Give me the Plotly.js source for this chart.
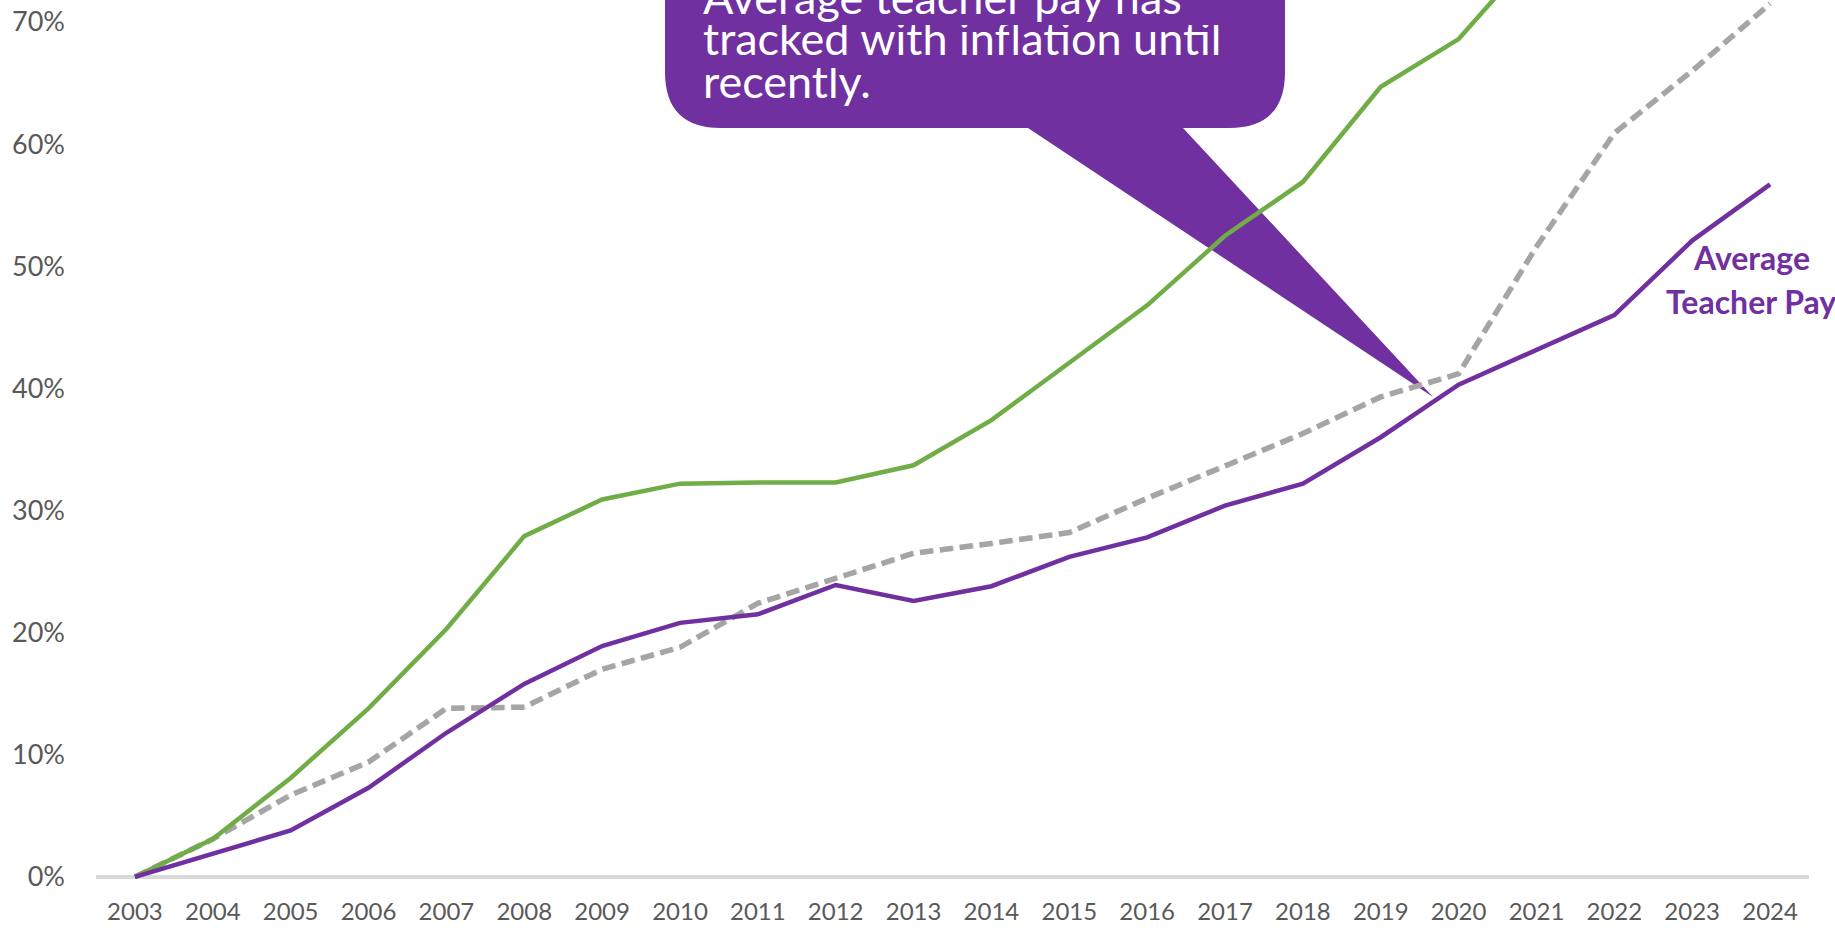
<!DOCTYPE html>
<html>
<head>
<meta charset="utf-8">
<script src="https://cdn.plot.ly/plotly-3.0.1.min.js"></script>
<style>html,body{margin:0;padding:0;background:#fff;}#chart{width:1835px;height:930px;}</style>
</head>
<body>
<div id="chart"></div>
<script>
// ---- data ----
const years = ["2003","2004","2005","2006","2007","2008","2009","2010","2011","2012","2013","2014","2015","2016","2017","2018","2019","2020","2021","2022","2023","2024"];
const teacherPay = [0,1.9,3.8,7.3,11.8,15.8,18.9,20.8,21.5,23.9,22.6,23.8,26.2,27.8,30.4,32.2,36.0,40.3,43.1,46.0,52.1,56.7];
const greenSeries = [0,3.1,8.1,13.8,20.3,27.9,30.9,32.2,32.3,32.3,33.7,37.4,42.1,46.8,52.5,56.9,64.7,68.6,75.8,82,87,92];
const inflation = [0,3.1,6.7,9.4,13.8,13.9,17.0,18.8,22.4,24.4,26.5,27.3,28.2,31.0,33.7,36.3,39.3,41.2,51.6,60.9,66.0,71.5];
const yTicks = [0,10,20,30,40,50,60,70];
const bubbleLines = ["Average teacher pay has","tracked with inflation until","recently."];
const seriesLabel = ["Average","Teacher Pay"];

// ---- layout helpers (pixel -> paper) ----
const W=1835, H=930, L=96, R=26, T=0, B=47;
const PW = W-L-R, PH = H-T-B;
const px = x => (x-L)/PW;
const py = y => (PH+T-y)/PH;
const P = (x,y) => px(x).toFixed(5)+','+py(y).toFixed(5);

const purple = '#7030A0', green = '#70AD47';
const font = 'Lato, "Open Sans", sans-serif';

const bubblePath = 'M '+P(665,-150)+' L '+P(1285,-150)+' L '+P(1285,72)+
  ' Q '+P(1285,128)+' '+P(1229,128)+' L '+P(1183,128)+' L '+P(1433,397)+
  ' L '+P(1028,128)+' L '+P(721,128)+' Q '+P(665,128)+' '+P(665,72)+' Z';

const traces = [
  {x: years, y: inflation, type:'scatter', mode:'lines', line:{color:'#D3D3D3', width:5, dash:'4px,6px'}, hoverinfo:'skip'},
  {x: years, y: inflation, type:'scatter', mode:'lines', line:{color:'#A5A5A5', width:5.5, dash:'13px,7px'}, name:'Inflation'},
  {x: years, y: greenSeries, type:'scatter', mode:'lines', line:{color:green, width:4.5}, name:'Other'},
  {x: years, y: teacherPay, type:'scatter', mode:'lines', line:{color:purple, width:4.5}, name:'Average Teacher Pay'}
];

// bubble text: boxes sized to the line spacing, text aligned to box bottom
const bubbleBaselines = [15,56,99];
const annotations = bubbleLines.map((t,i)=>({
  text:t, xref:'paper', yref:'paper', x:px(702), y:py(bubbleBaselines[i]+10),
  xanchor:'left', yanchor:'bottom', showarrow:false, height:40, valign:'bottom', borderpad:0,
  font:{family:font, size:45, color:'#ffffff'}
}));
const labelBaselines = [271,315];
seriesLabel.forEach((t,i)=>annotations.push({
  text:'<b>'+t+'</b>', xref:'paper', yref:'paper', x:px(1751), y:py(labelBaselines[i]+7),
  xanchor:'center', yanchor:'bottom', showarrow:false, height:38, valign:'bottom', borderpad:0,
  font:{family:font, size:32, color:purple}
}));

const layout = {
  width:W, height:H,
  margin:{l:L, r:R, t:T, b:B, pad:0},
  paper_bgcolor:'#ffffff', plot_bgcolor:'#ffffff',
  showlegend:false,
  xaxis:{type:'category', range:[-0.5,21.5], showgrid:false, zeroline:false, showline:false, ticks:'',
    tickfont:{family:font, size:24, color:'#595959'}, ticklabelstandoff:12, fixedrange:true},
  yaxis:{range:[-0.5,71.8], tickvals:yTicks, ticktext:yTicks.map(v=>v+'%'), showgrid:false,
    zeroline:true, zerolinecolor:'#D9D9D9', zerolinewidth:3.5, showline:false, ticks:'',
    tickfont:{family:font, size:27, color:'#595959'}, ticklabelstandoff:30, fixedrange:true},
  shapes:[{type:'path', xref:'paper', yref:'paper', path:bubblePath, fillcolor:purple, line:{width:0}, layer:'below'}],
  annotations: annotations
};

Plotly.newPlot('chart', traces, layout, {displayModeBar:false, staticPlot:true});
</script>
</body>
</html>
